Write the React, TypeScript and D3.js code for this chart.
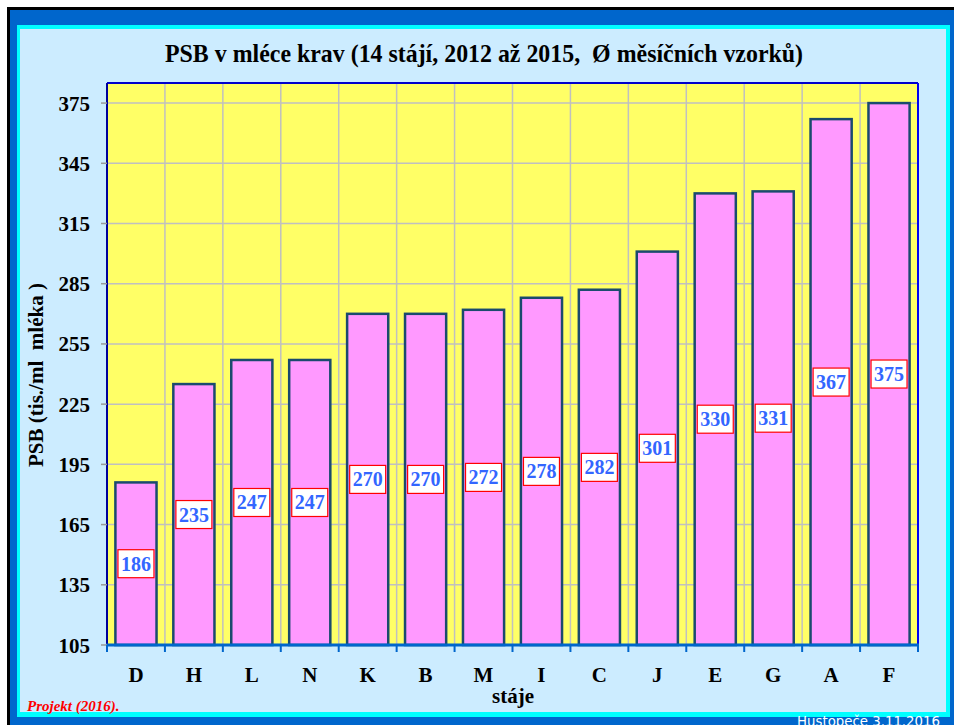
import React from "react";
import * as d3 from "d3";

const categories = ["D", "H", "L", "N", "K", "B", "M", "I", "C", "J", "E", "G", "A", "F"];
const values = [186, 235, 247, 247, 270, 270, 272, 278, 282, 301, 330, 331, 367, 375];
const yTicks = [105, 135, 165, 195, 225, 255, 285, 315, 345, 375];

const W = 954;
const H = 725;
const plot = { left: 107, right: 918, top: 83, bottom: 645 };
const serif = "'Liberation Serif', 'Times New Roman', serif";

export default function App() {
  const x = d3
    .scaleBand<string>()
    .domain(categories)
    .range([plot.left, plot.right])
    .paddingInner(0.29)
    .paddingOuter(0.145);
  const y = d3.scaleLinear().domain([105, 385]).range([plot.bottom, plot.top]);
  const step = x.step();
  const bounds = d3.range(categories.length + 1).map((i) => plot.left + i * step);

  return (
    <svg
      width={W}
      height={H}
      style={{ position: "absolute", left: 0, top: 0, display: "block" }}
      fontFamily={serif}
    >
      <rect x={0} y={0} width={W} height={H} fill="#ffffff" />
      <rect x={7} y={7} width={W} height={H} fill="#000000" />
      <rect x={10} y={10} width={W} height={H} fill="#0066CC" />
      <rect x={17} y={25} width={933} height={692} fill="#00FFFF" />
      <rect x={20} y={29} width={926} height={683} fill="#CCECFF" />

      <text
        x={484}
        y={62}
        textAnchor="middle"
        fontSize={26}
        fontWeight="bold"
        textLength={638}
        lengthAdjust="spacingAndGlyphs"
        style={{ whiteSpace: "pre" }}
      >
        {"PSB v mléce krav (14 stájí, 2012 až 2015,  Ø měsíčních vzorků)"}
      </text>

      {/* plot background */}
      <rect
        x={plot.left}
        y={plot.top}
        width={plot.right - plot.left}
        height={plot.bottom - plot.top}
        fill="#FFFF66"
      />
      {/* grid */}
      {yTicks.map((t) => (
        <line key={"gy" + t} x1={plot.left} x2={plot.right} y1={y(t)} y2={y(t)} stroke="#C0C0C0" strokeWidth={1.5} />
      ))}
      {bounds.map((b, i) => (
        <line key={"gx" + i} x1={b} x2={b} y1={plot.top} y2={plot.bottom} stroke="#C0C0C0" strokeWidth={1.5} />
      ))}

      {/* bars */}
      {categories.map((c, i) => (
        <rect
          key={"b" + c}
          x={x(c)}
          y={y(values[i])}
          width={x.bandwidth()}
          height={plot.bottom - y(values[i])}
          fill="#FF99FF"
          stroke="#1A4A6E"
          strokeWidth={2.5}
        />
      ))}

      {/* plot border */}
      <line x1={plot.left} x2={plot.right} y1={plot.top} y2={plot.top} stroke="#0000CC" strokeWidth={2} />
      <line x1={plot.right} x2={plot.right} y1={plot.top} y2={plot.bottom} stroke="#0000EE" strokeWidth={2} />
      <line x1={plot.left} x2={plot.left} y1={plot.top} y2={plot.bottom} stroke="#000099" strokeWidth={2} />
      <line x1={plot.left - 1} x2={plot.right + 1} y1={plot.bottom} y2={plot.bottom} stroke="#0066CC" strokeWidth={3} />

      {/* y ticks */}
      {yTicks.map((t) => (
        <g key={"yt" + t}>
          <line x1={plot.left - 6} x2={plot.left} y1={y(t)} y2={y(t)} stroke="#999999" strokeWidth={1.5} />
          <text x={90} y={y(t) + 7.5} textAnchor="end" fontSize={21} fontWeight="bold" fill="#000">
            {t}
          </text>
        </g>
      ))}

      {/* x ticks */}
      {bounds.map((b, i) => (
        <line key={"xt" + i} x1={b} x2={b} y1={plot.bottom} y2={plot.bottom + 7} stroke="#0066CC" strokeWidth={2} />
      ))}
      {categories.map((c) => (
        <text
          key={"xl" + c}
          x={(x(c) as number) + x.bandwidth() / 2}
          y={682}
          textAnchor="middle"
          fontSize={21}
          fontWeight="bold"
        >
          {c}
        </text>
      ))}

      {/* value labels */}
      {categories.map((c, i) => {
        const cx = (x(c) as number) + x.bandwidth() / 2;
        const cy = (y(values[i]) + plot.bottom) / 2;
        return (
          <g key={"vl" + c}>
            <rect x={cx - 18} y={cy - 14} width={36} height={28} fill="#ffffff" stroke="#FF0000" strokeWidth={1.2} />
            <text x={cx} y={cy + 7} textAnchor="middle" fontSize={20} fontWeight="bold" fill="#3366FF">
              {values[i]}
            </text>
          </g>
        );
      })}

      {/* axis titles */}
      <text x={513} y={703} textAnchor="middle" fontSize={21} fontWeight="bold">
        stáje
      </text>
      <text
        transform="translate(43,375) rotate(-90)"
        textAnchor="middle"
        fontSize={21}
        fontWeight="bold"
        textLength={184}
        lengthAdjust="spacingAndGlyphs"
        style={{ whiteSpace: "pre" }}
      >
        {"PSB (tis./ml  mléka )"}
      </text>

      <text x={27} y={711} fontSize={15} fontWeight="bold" fontStyle="italic" fill="#FF0000">
        Projekt (2016).
      </text>
      <text
        x={797}
        y={726}
        fontSize={14}
        fill="#ffffff"
        fontFamily="'DejaVu Sans', Verdana, sans-serif"
        textLength={143}
        lengthAdjust="spacingAndGlyphs"
      >
        Hustopeče 3.11.2016
      </text>
    </svg>
  );
}
